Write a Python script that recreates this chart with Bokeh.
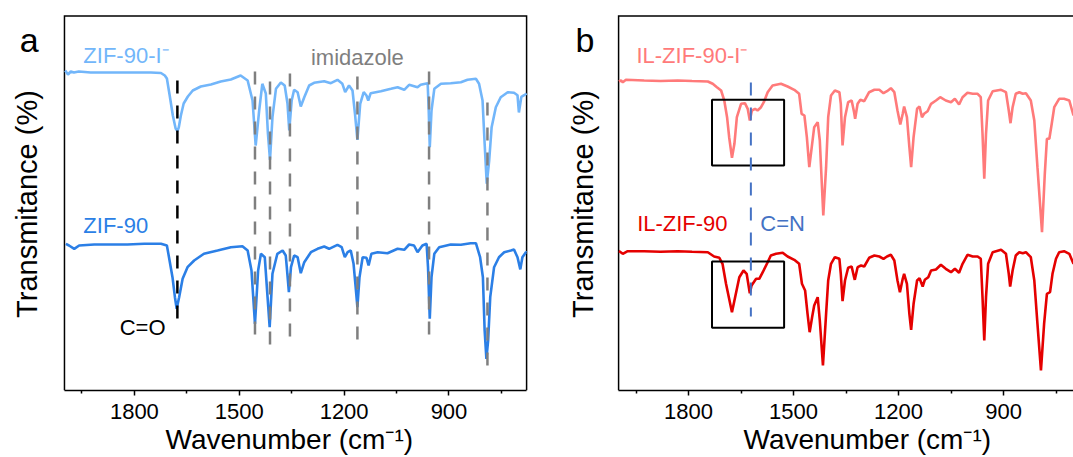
from math import pi
from bokeh.plotting import figure
from bokeh.models import Range1d, FixedTicker, Label, Title
from bokeh.layouts import row
from bokeh.embed import file_html
from bokeh.resources import INLINE

FONT = "Liberation Sans"

# ---------------- data (wavenumber cm-1, transmittance a.u.) ----------------
zif90_i = [(1998, 320), (1990, 316), (1982, 319), (1973, 318), (1959, 319), (1925, 318), (1868, 318),
           (1810, 318), (1753, 318), (1724, 317.5), (1713, 315), (1707, 312), (1699, 295), (1690, 275),
           (1682, 262), (1677, 259.5), (1673, 263), (1667, 275), (1659, 287), (1647, 294), (1633, 300),
           (1610, 304), (1581, 306), (1553, 309), (1524, 311), (1496, 315), (1476, 310), (1462, 290),
           (1453, 245), (1443, 280), (1434, 306.7), (1424, 297), (1418, 257), (1412, 230.7), (1405, 273.3),
           (1395, 301.7), (1381, 308), (1370, 305), (1362, 287), (1357, 260), (1350, 290), (1343, 300.7),
           (1333, 298.3), (1324, 284), (1314, 293.3), (1300, 305), (1286, 307.7), (1257, 309.3), (1238, 307.3),
           (1219, 310.7), (1205, 306.7), (1197, 298.3), (1186, 305), (1176, 300), (1169, 277), (1162, 250.7),
           (1154, 286.7), (1144, 298.3), (1136, 295), (1131, 290), (1124, 297.3), (1095, 299.3), (1066, 301.7),
           (1047, 303.3), (1028, 300.7), (1014, 305.7), (990, 303.3), (981, 305.7), (961, 307.3), (958, 280),
           (955, 243.3), (950, 280), (942, 301.7), (923, 306.7), (895, 307.3), (866, 308.3), (847, 310.7),
           (823, 311.7), (814, 306.7), (804, 290), (798, 246.7), (792, 206.7), (785, 230), (778, 263.3),
           (766, 283.3), (752, 293.3), (732, 298.3), (714, 297.7), (704, 295.3), (700, 278), (693, 293.6),
           (685, 295.3), (678, 297)]

zif90 = [(1996, 146.7), (1987, 145), (1972, 141.7), (1958, 145), (1915, 146), (1868, 146), (1820, 146),
         (1772, 146.7), (1724, 146.7), (1707, 145), (1701, 133.3), (1691, 113.3), (1684, 93.3), (1679, 81.7),
         (1672, 93.3), (1662, 111.7), (1648, 123.3), (1629, 130), (1601, 136.7), (1562, 140), (1524, 143.3),
         (1491, 144.3), (1476, 140), (1465, 120), (1455, 66.7), (1446, 120), (1438, 136.7), (1427, 133.3),
         (1419, 93.3), (1413, 63.3), (1405, 116.7), (1391, 136.7), (1376, 140), (1367, 135), (1364, 123.3),
         (1358, 98.3), (1352, 123.3), (1343, 135), (1333, 133.3), (1324, 117.3), (1314, 128.3), (1295, 138.3),
         (1276, 141.7), (1257, 144), (1243, 141.7), (1219, 145.7), (1207, 143.3), (1198, 133.3), (1190, 138.3),
         (1181, 140), (1173, 126.7), (1167, 103.3), (1162, 83.3), (1156, 113.3), (1147, 133.3), (1136, 132.7),
         (1130, 125), (1122, 136.7), (1104, 138.3), (1076, 137.3), (1047, 141.7), (1028, 140.7), (1014, 146),
         (1000, 145), (990, 138.3), (976, 145), (964, 146.7), (960, 123.3), (955, 71.7), (950, 113.3),
         (942, 136.7), (928, 143.3), (895, 146), (866, 145.7), (838, 147.3), (823, 147.3), (811, 133.3),
         (803, 113.3), (798, 60), (793, 31.7), (788, 50), (782, 93.3), (771, 123.3), (757, 133.3), (742, 138.3),
         (723, 140), (714, 141), (704, 133.2), (696, 121.1), (690, 133.2), (680, 138.3), (678, 138)]

il_zif90_i = [(1999, 309), (1993, 310), (1988, 308.3), (1979, 310.7), (1927, 310), (1880, 309.5), (1831, 310),
              (1790, 309.5), (1745, 309), (1731, 306.7), (1719, 303.3), (1707, 300), (1698, 290), (1690, 273.3),
              (1684, 253.3), (1676, 232.7), (1669, 246.7), (1662, 273.3), (1650, 286.7), (1639, 287.3),
              (1631, 281.7), (1625, 270), (1619, 280), (1610, 281.7), (1603, 280), (1593, 283.3), (1585, 288.3),
              (1574, 298.3), (1560, 305), (1536, 306.7), (1517, 304), (1498, 300.7), (1484, 296.7), (1477, 276.7),
              (1469, 275), (1462, 253.3), (1455, 223.3), (1448, 243.3), (1441, 263.3), (1431, 268.3), (1425, 250),
              (1415, 175), (1407, 223.3), (1401, 273.3), (1393, 295), (1382, 300), (1369, 298.3), (1365, 286.7),
              (1360, 245), (1353, 273.3), (1344, 288.3), (1334, 290), (1327, 278.3), (1324, 271.7), (1317, 286.7),
              (1309, 290.7), (1298, 289.3), (1284, 298.3), (1269, 300.7), (1255, 300.7), (1243, 297.3),
              (1233, 299.3), (1222, 302.3), (1212, 298.3), (1203, 280), (1195, 266), (1188, 276.7), (1184, 284),
              (1176, 273.3), (1169, 243.3), (1164, 223.3), (1157, 253.3), (1147, 281.7), (1140, 284),
              (1133, 273.3), (1127, 276.7), (1117, 279.3), (1107, 286.7), (1093, 290), (1081, 293.3), (1065, 290),
              (1050, 288.3), (1039, 291.7), (1027, 286), (1017, 293.3), (1003, 297.7), (988, 296.7), (974, 296.7),
              (965, 293.3), (960, 256.7), (955, 211.7), (950, 256.7), (944, 290), (931, 299.3), (907, 300.7),
              (893, 298.3), (885, 280), (880, 267.3), (874, 283.3), (865, 296.7), (855, 298.3), (845, 296.7),
              (836, 297.3), (822, 290), (812, 270), (803, 223.3), (790, 158.3), (782, 216.7), (776, 251.7),
              (769, 251.7), (763, 265), (755, 283.3), (741, 291.7), (727, 291.7), (712, 290), (700, 275), (693, 288)]

il_zif90 = [(1999, 139.5), (1998, 139.3), (1988, 136.7), (1974, 139.3), (1927, 139.3), (1880, 138.8), (1831, 139.3),
            (1790, 138.8), (1745, 138.3), (1727, 134), (1712, 132.7), (1703, 126.7), (1693, 106.7), (1676, 78.3),
            (1667, 93.3), (1655, 113.3), (1643, 120), (1634, 116.7), (1625, 97.3), (1620, 105), (1607, 111.7),
            (1598, 111.7), (1588, 118.3), (1574, 128.3), (1565, 135), (1550, 136.7), (1531, 137.7), (1517, 134),
            (1498, 130.7), (1484, 126.7), (1476, 106.7), (1467, 100), (1460, 76.7), (1454, 58.3), (1447, 73.3),
            (1441, 85), (1431, 93.3), (1425, 70), (1416, 25), (1407, 76.7), (1401, 110), (1393, 126.7),
            (1382, 133.3), (1369, 131.7), (1365, 116.7), (1360, 89.3), (1353, 110), (1344, 122.7), (1334, 124),
            (1327, 113.3), (1325, 110.7), (1317, 123.3), (1307, 125), (1298, 124), (1284, 132.7), (1269, 135),
            (1255, 134), (1243, 131.7), (1233, 134), (1222, 135.7), (1212, 130), (1203, 110), (1196, 98.3),
            (1188, 111.7), (1184, 116.7), (1176, 106.7), (1169, 76.7), (1164, 60.7), (1157, 86.7), (1147, 110),
            (1140, 112.3), (1131, 104), (1125, 110.7), (1115, 113.3), (1107, 120), (1093, 121), (1079, 125.7),
            (1065, 121.7), (1050, 118.3), (1039, 121.7), (1027, 117.7), (1017, 126.7), (1003, 135.7), (988, 134),
            (974, 134), (965, 131.7), (960, 93.3), (955, 50), (950, 93.3), (944, 126.7), (931, 138.3),
            (907, 140.7), (893, 136.7), (885, 116.7), (881, 104), (874, 120), (865, 135), (855, 138.3),
            (845, 137.3), (836, 138.3), (822, 133.3), (812, 110), (803, 66.7), (793, 20), (784, 66.7),
            (776, 96.7), (767, 98.3), (760, 116.7), (750, 131.7), (741, 138.3), (727, 139.3), (712, 136.7),
            (700, 126.7), (693, 138)]

# guide lines (panel a): C=O and imidazole bands
co_band = 1677
co_span = (310, 65)
imid_bands = [1455, 1412, 1355, 1162, 957, 790]
imid_top = [319, 309, 317, 314, 319, 288]
imid_bottom = [53, 43, 50, 48, 53, 22]

# panel b: C=N band and highlight boxes
cn_band = 1622
cn_span = (308, 74)
box_left, box_right = 1733, 1527
box_tops = [290.7, 129]
box_bottoms = [225, 62.7]

major_ticks = [1800, 1500, 1200, 900]
minor_ticks = [1950, 1650, 1350, 1050, 750]

# axis extents (cm-1) and plot box top (a.u.)
a_start, a_end = 2000, 678
b_start, b_end = 2000, 700
box_top = 374.5

C_LBLUE = "#72b6fa"
C_BLUE = "#2b7fe6"
C_LRED = "#ff7a7a"
C_RED = "#e50000"
C_GRAY = "#7f7f7f"
C_CN = "#4472c4"
LW = 2.6


def unzip(pairs):
    return [a for a, _ in pairs], [b for _, b in pairs]


def base_fig(width, x_left, x_right, bounds):
    p = figure(width=width, height=457, x_range=Range1d(x_left, x_right), y_range=Range1d(0, 390),
               output_backend="svg", toolbar_location=None, y_axis_location=None,
               min_border_left=0, min_border_right=0, min_border_top=0, min_border_bottom=67)
    p.xgrid.visible = False
    p.ygrid.visible = False
    p.outline_line_color = None
    xa = p.xaxis[0]
    xa.bounds = bounds
    xa.ticker = FixedTicker(ticks=major_ticks, minor_ticks=minor_ticks)
    xa.major_label_text_font = FONT
    xa.major_label_text_font_size = "22px"
    xa.major_label_text_color = "black"
    xa.major_label_standoff = 8
    xa.major_tick_out = 5
    xa.major_tick_in = 0
    xa.minor_tick_out = 3
    xa.minor_tick_in = 0
    xa.major_tick_line_width = 1.5
    xa.minor_tick_line_width = 1.5
    xa.axis_line_width = 1.5
    xa.axis_line_color = "black"
    return p


def text(p, x, y, s, color, size="22px", align="left", angle=0.0, baseline="alphabetic"):
    p.add_layout(Label(x=x, y=y, text=s, text_color=color, text_font=FONT, text_font_size=size,
                       text_align=align, text_baseline=baseline, angle=angle))


def xlabel(p, offset):
    p.add_layout(Title(text="Wavenumber (cm\u207b\u00b9)", align="left", offset=offset, standoff=0,
                       vertical_align="bottom", text_font=FONT, text_font_size="28px",
                       text_font_style="normal", text_color="black"), "below")


# ---------------- panel a ----------------
pa = base_fig(560, 2183, 581, (a_end, a_start))
pa.line([a_start, a_start, a_end, a_end], [0, box_top, box_top, 0], line_color="black", line_width=1.5,
        line_join="miter")
x, y = unzip(zif90_i)
pa.line(x, y, line_color=C_LBLUE, line_width=LW)
x, y = unzip(zif90)
pa.line(x, y, line_color=C_BLUE, line_width=LW)
pa.segment(x0=imid_bands, y0=imid_top, x1=imid_bands, y1=imid_bottom,
           line_color=C_GRAY, line_width=2.5, line_dash="13 12")
pa.segment(x0=[co_band], y0=[co_span[0]], x1=[co_band], y1=[co_span[1]],
           line_color="black", line_width=2.5, line_dash="13 12")
text(pa, 1946, 335.5, "ZIF-90-I\u207b", C_LBLUE)
text(pa, 1295, 333.5, "imidazole", C_GRAY)
text(pa, 1946, 165, "ZIF-90", C_BLUE)
text(pa, 1842, 63.5, "C=O", "black")
text(pa, 2128, 351, "a", "black", size="34px")
text(pa, 2106, 186.5, "Transmitance (%)", "black", size="29px", align="center", angle=pi / 2, baseline="middle")
xlabel(pa, 165)

# ---------------- panel b ----------------
pb = base_fig(513, 2166, 700, (b_end, b_start))
pb.line([b_start, b_start, b_end], [0, box_top, box_top], line_color="black", line_width=1.5,
        line_join="miter")
x, y = unzip(il_zif90_i)
pb.line(x, y, line_color=C_LRED, line_width=LW)
x, y = unzip(il_zif90)
pb.line(x, y, line_color=C_RED, line_width=LW)
pb.quad(left=[box_left, box_left], right=[box_right, box_right], top=box_tops, bottom=box_bottoms,
        fill_color=None, line_color="black", line_width=2)
pb.segment(x0=[cn_band], y0=[cn_span[0]], x1=[cn_band], y1=[cn_span[1]],
           line_color=C_CN, line_width=2, line_dash="13 12")
text(pb, 1949, 335, "IL-ZIF-90-I\u207b", C_LRED)
text(pb, 1947, 167, "IL-ZIF-90", C_RED)
text(pb, 1595, 167, "C=N", C_CN)
text(pb, 2123, 350.5, "b", "black", size="34px")
text(pb, 2101, 186.5, "Transmitance (%)", "black", size="29px", align="center", angle=pi / 2, baseline="middle")
xlabel(pb, 183)

layout = row(pa, pb)
open("out.html", "w").write(file_html(layout, INLINE))
